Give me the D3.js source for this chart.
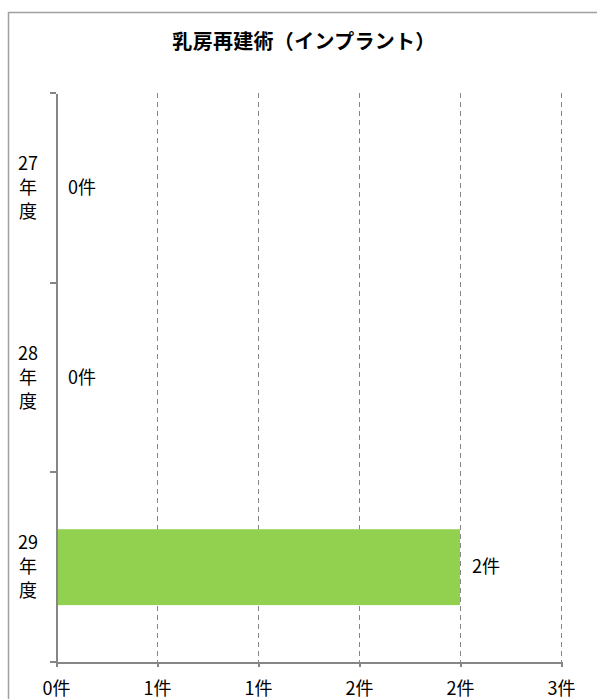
<!DOCTYPE html>
<html lang="ja">
<head>
<meta charset="utf-8">
<title>乳房再建術（インプラント）</title>
<style>
body { margin: 0; background: #fff; }
svg text { font-family: "Noto Sans CJK JP", "Noto Sans", sans-serif; fill: #000; }
.axis path, .axis line { stroke: #868686; stroke-width: 2; fill: none; shape-rendering: crispEdges; }
.grid line { stroke: #868686; stroke-width: 1; stroke-dasharray: 5,4; shape-rendering: crispEdges; }
</style>
</head>
<body>
<div id="chart"></div>
<script src="https://d3js.org/d3.v7.min.js"></script>
<script>
// data
var categories = ["27年度", "28年度", "29年度"];
var values = [0, 0, 2];
var tickValues = [0, 0.5, 1, 1.5, 2, 2.5];
var tickLabels = ["0件", "1件", "1件", "2件", "2件", "3件"];
var title = "乳房再建術（インプラント）";

var W = 597, H = 699;
var margin = { top: 93, left: 56, right: 36, bottom: 37 };
var width = W - margin.left - margin.right,
    height = H - margin.top - margin.bottom;

var svg = d3.select("#chart").append("svg")
    .attr("width", W)
    .attr("height", H);

// outer frame (only top and left are visible)
svg.append("path")
    .attr("d", "M8.5," + H + "V12.5H" + W)
    .attr("fill", "none")
    .attr("stroke", "#a0a0a0")
    .attr("stroke-width", 1.5);

svg.append("text")
    .attr("x", 304)
    .attr("y", 49)
    .attr("text-anchor", "middle")
    .style("font-size", "20px")
    .style("font-weight", "bold")
    .style("letter-spacing", "0.3px")
    .text(title);

var g = svg.append("g")
    .attr("transform", "translate(" + margin.left + "," + margin.top + ")");

var x = d3.scaleLinear().domain([0, 2.5]).range([0, width]);
var y = d3.scaleBand().domain(categories).range([0, height]);

// gridlines
g.append("g").attr("class", "grid")
  .selectAll("line")
  .data(tickValues.slice(1))
  .enter().append("line")
    .attr("x1", function(d) { return Math.round(x(d)) + 0.5; })
    .attr("x2", function(d) { return Math.round(x(d)) + 0.5; })
    .attr("y1", 0)
    .attr("y2", height);

// bars
var barH = y.bandwidth() / 2.5;
g.selectAll(".bar")
  .data(values)
  .enter().append("rect")
    .attr("class", "bar")
    .attr("x", x(0))
    .attr("y", function(d, i) { return y(categories[i]) + (y.bandwidth() - barH) / 2; })
    .attr("width", function(d) { return x(d) - x(0); })
    .attr("height", barH)
    .attr("fill", "#92d050");

// value labels
g.selectAll(".val")
  .data(values)
  .enter().append("text")
    .attr("class", "val")
    .attr("x", function(d) { return x(d) + 12; })
    .attr("y", function(d, i) { return y(categories[i]) + y.bandwidth() / 2; })
    .attr("dy", "0.35em")
    .style("font-size", "18px")
    .text(function(d) { return d + "件"; });

// x axis
var xAxis = g.append("g")
    .attr("class", "axis")
    .attr("transform", "translate(0," + height + ")")
    .call(d3.axisBottom(x)
      .tickValues(tickValues)
      .tickSize(6)
      .tickSizeOuter(0)
      .tickFormat(function(d, i) { return tickLabels[i]; }));
xAxis.selectAll(".tick line").attr("y1", 0).attr("y2", 5);
xAxis.selectAll("text")
    .attr("y", 27)
    .attr("dy", "0.35em")
    .style("font-size", "18px");

// y axis
var yAxis = g.append("g")
    .attr("class", "axis")
    .call(d3.axisLeft(y).tickSize(0).tickFormat(""));
yAxis.selectAll(".tick").remove();
yAxis.selectAll(".sep")
  .data(categories.concat([null]))
  .enter().append("line")
    .attr("class", "sep")
    .attr("x1", -6).attr("x2", 0)
    .attr("y1", function(d, i) { return i < categories.length ? y(d) : height; })
    .attr("y2", function(d, i) { return i < categories.length ? y(d) : height; });

// vertical category labels
var cat = g.selectAll(".cat")
  .data(categories)
  .enter().append("text")
    .attr("class", "cat")
    .attr("text-anchor", "middle")
    .style("font-size", "18px");
cat.each(function(d) {
  var parts = [d.slice(0, 2), d.charAt(2), d.charAt(3)];
  var cy = y(d) + y.bandwidth() / 2;
  var t = d3.select(this);
  parts.forEach(function(p, j) {
    t.append("tspan")
      .attr("x", -28)
      .attr("y", cy + (j - 1) * 24)
      .attr("dy", "0.35em")
      .text(p);
  });
});
</script>
</body>
</html>
